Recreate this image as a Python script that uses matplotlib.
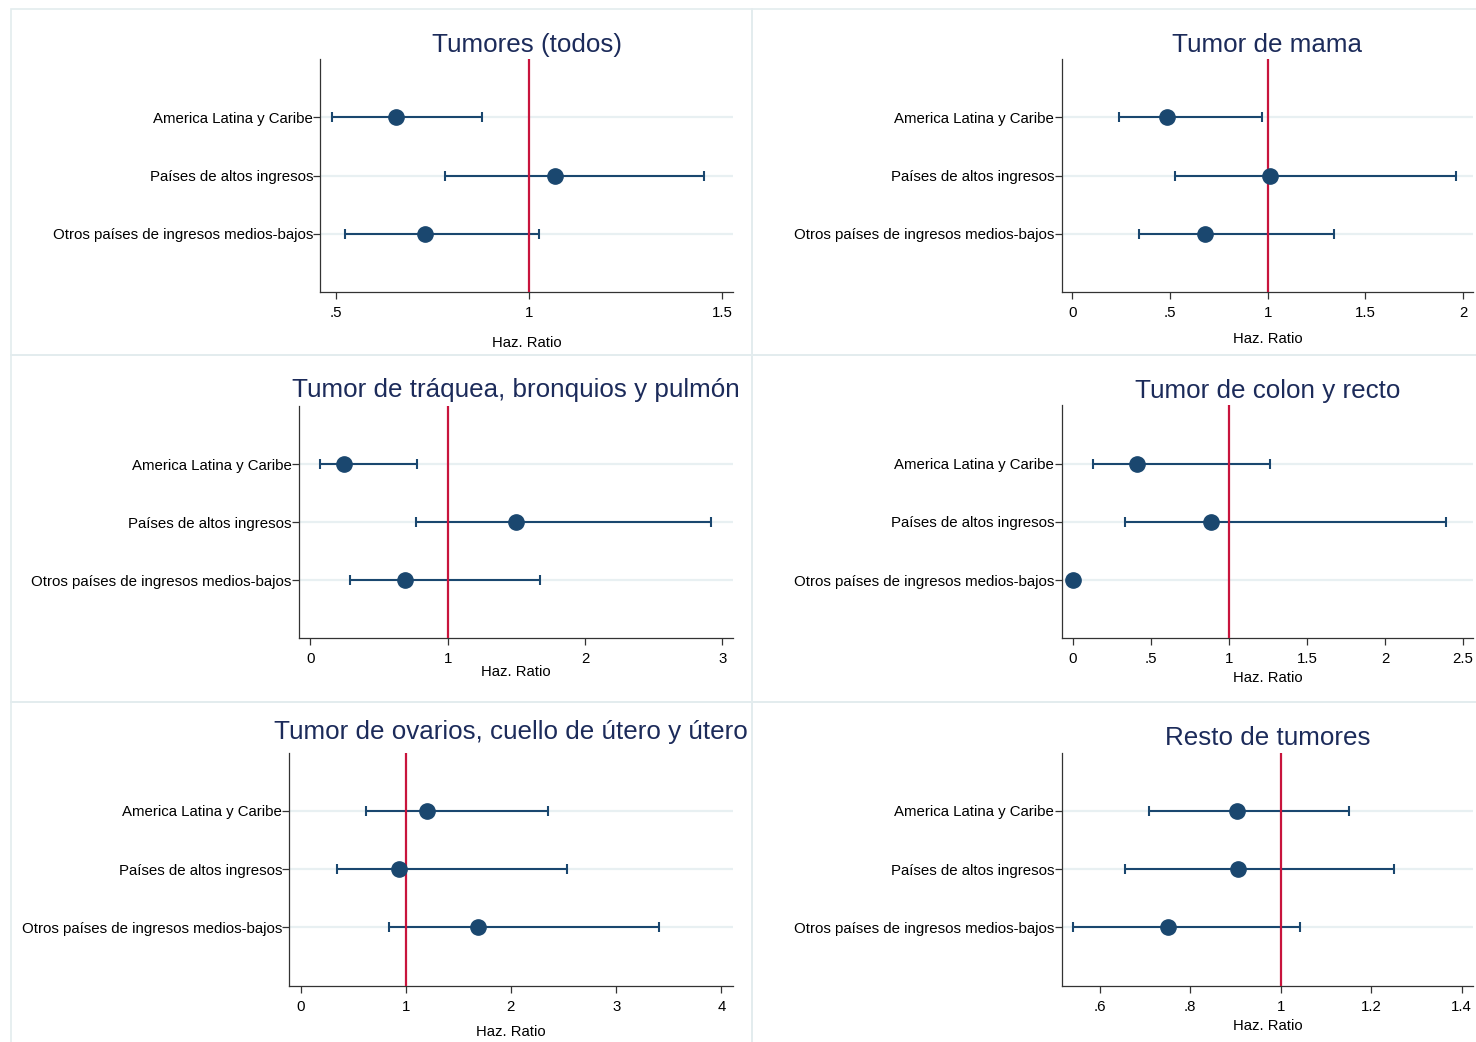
import numpy as np
import matplotlib
matplotlib.use("Agg")
import matplotlib.pyplot as plt
from matplotlib.patches import Rectangle

plt.rcParams['font.family'] = ['Liberation Sans', 'DejaVu Sans']

# datos (hazard ratios e IC 95%)
categories = ["America Latina y Caribe", "Países de altos ingresos",
              "Otros países de ingresos medios-bajos"]

titles = ["Tumores (todos)", "Tumor de mama",
          "Tumor de tráquea, bronquios y pulmón", "Tumor de colon y recto",
          "Tumor de ovarios, cuello de útero y útero", "Resto de tumores"]

hr_todos = [0.656, 1.066, 0.732]
lo_todos = [0.489, 0.782, 0.523]
hi_todos = [0.879, 1.453, 1.027]

hr_mama = [0.485, 1.013, 0.678]
lo_mama = [0.240, 0.526, 0.339]
hi_mama = [0.970, 1.966, 1.340]

hr_pulmon = [0.244, 1.496, 0.691]
lo_pulmon = [0.074, 0.773, 0.290]
hi_pulmon = [0.779, 2.918, 1.676]

hr_colon = [0.409, 0.888, 0.0]
lo_colon = [0.129, 0.334, np.nan]
hi_colon = [1.265, 2.389, np.nan]

hr_ovario = [1.203, 0.940, 1.691]
lo_ovario = [0.623, 0.346, 0.839]
hi_ovario = [2.355, 2.530, 3.406]

hr_resto = [0.903, 0.907, 0.752]
lo_resto = [0.709, 0.657, 0.541]
hi_resto = [1.151, 1.251, 1.043]

xticks_todos = [0.5, 1, 1.5]
xticks_mama = [0, 0.5, 1, 1.5, 2]
xticks_pulmon = [0, 1, 2, 3]
xticks_colon = [0, 0.5, 1, 1.5, 2, 2.5]
xticks_ovario = [0, 1, 2, 3, 4]
xticks_resto = [0.6, 0.8, 1, 1.2, 1.4]

xlabels_todos = [".5", "1", "1.5"]
xlabels_mama = ["0", ".5", "1", "1.5", "2"]
xlabels_pulmon = ["0", "1", "2", "3"]
xlabels_colon = ["0", ".5", "1", "1.5", "2", "2.5"]
xlabels_ovario = ["0", "1", "2", "3", "4"]
xlabels_resto = [".6", ".8", "1", "1.2", "1.4"]

W, H = 1476, 1042
NAVY = '#1a476f'
RED = '#c8143c'
GRID = '#e8f0f2'
TITLE_C = '#1c2b5a'
BORDER = '#e3ecee'

fig = plt.figure(figsize=(W / 100, H / 100), dpi=100)
fig.patch.set_facecolor('white')

# bordes de los paneles
for (x0, y0, x1, y1) in [(11, 9, 752, 355), (752, 9, 1480, 355),
                         (11, 355, 752, 702), (752, 355, 1480, 702),
                         (11, 702, 752, 1046), (752, 702, 1480, 1046)]:
    fig.add_artist(Rectangle((x0 / W, 1 - y1 / H), (x1 - x0) / W, (y1 - y0) / H,
                             transform=fig.transFigure, fill=False,
                             edgecolor=BORDER, lw=1.2))

# (izq, arriba, der, abajo) en pixeles, xlim, desplazamiento titulo, desplazamiento xlabel
panels = [
    ((320.4, 59.3, 733, 292), (0.46, 1.528), 14.5, 51,
     hr_todos, lo_todos, hi_todos, xticks_todos, xlabels_todos),
    ((1061.6, 59.3, 1473.3, 292), (-0.055, 2.053), 14.5, 47,
     hr_mama, lo_mama, hi_mama, xticks_mama, xlabels_mama),
    ((299, 406, 733, 638.3), (-0.082, 3.078), 15.5, 33.7,
     hr_pulmon, lo_pulmon, hi_pulmon, xticks_pulmon, xlabels_pulmon),
    ((1061.6, 405.3, 1473.3, 638.3), (-0.072, 2.566), 14.5, 39.7,
     hr_colon, lo_colon, hi_colon, xticks_colon, xlabels_colon),
    ((289.4, 752.7, 733, 985.7), (-0.106, 4.111), 21, 46,
     hr_ovario, lo_ovario, hi_ovario, xticks_ovario, xlabels_ovario),
    ((1061.6, 752.7, 1473.3, 985.7), (0.516, 1.426), 15, 40,
     hr_resto, lo_resto, hi_resto, xticks_resto, xlabels_resto),
]

ypos = np.array([1, 2, 3])

for title, (box, xlim, t_off, xl_off, hr, lo, hi, xt, xtl) in zip(titles, panels):
    l, t, r, b = box
    ax = fig.add_axes([l / W, 1 - b / H, (r - l) / W, (b - t) / H])
    hr = np.array(hr, dtype=float)
    lo = np.array(lo, dtype=float)
    hi = np.array(hi, dtype=float)

    for y in ypos:
        ax.axhline(y, color=GRID, lw=1.6, zorder=0)

    ok = ~np.isnan(lo)
    ax.errorbar(hr[ok], ypos[ok], xerr=[hr[ok] - lo[ok], hi[ok] - hr[ok]],
                fmt='none', ecolor=NAVY, elinewidth=1.5, capsize=3.3,
                capthick=1.5, zorder=2)
    ax.axvline(1, color=RED, lw=1.6, zorder=3)
    ax.plot(hr, ypos, 'o', ms=11, color=NAVY, mec=NAVY, zorder=4, clip_on=False)

    ax.set_xlim(*xlim)
    ax.set_ylim(4, 0)
    ax.set_xticks(xt)
    ax.set_xticklabels(xtl)
    ax.set_yticks(ypos)
    ax.set_yticklabels(categories)
    ax.tick_params(axis='y', length=5, width=0.9, pad=0.3, labelsize=10.8,
                   color='#333333')
    ax.tick_params(axis='x', length=5, width=0.9, pad=5, labelsize=10.8,
                   color='#333333')
    for s in ['top', 'right']:
        ax.spines[s].set_visible(False)
    for s in ['left', 'bottom']:
        ax.spines[s].set_color('#333333')
        ax.spines[s].set_linewidth(0.9)

    h = b - t
    ax.text(0.5, 1 + t_off / h, title, transform=ax.transAxes, ha='center',
            va='center', fontsize=18.7, color=TITLE_C)
    ax.text(0.5, -xl_off / h, "Haz. Ratio", transform=ax.transAxes,
            ha='center', va='center', fontsize=10.7)

fig.savefig('out.png', dpi=100)
